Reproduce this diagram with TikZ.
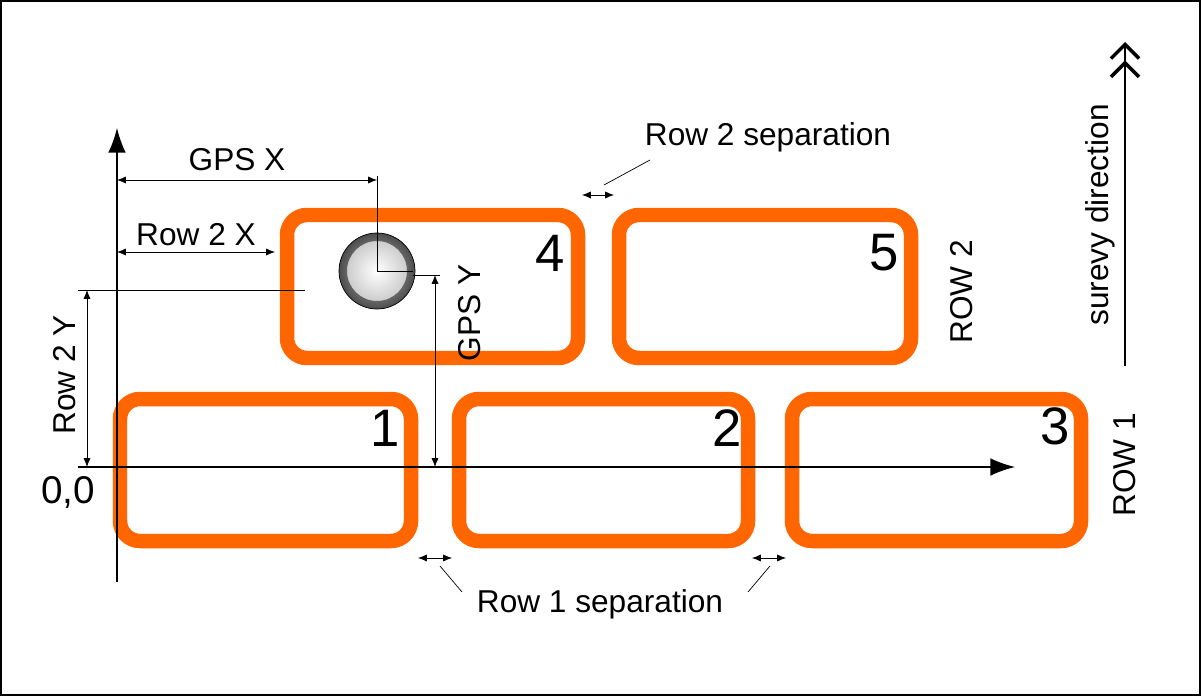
\documentclass[tikz,border=0pt]{standalone}
\usepackage{fontspec}
\setmainfont{Liberation Sans}
\usetikzlibrary{arrows.meta}
\definecolor{plotorange}{RGB}{255,102,0}
\tikzset{
  plot/.style={draw=plotorange, line width=0.29cm, rounded corners=0.4cm},
  dim/.style={{Latex[length=5pt,width=4pt]}-{Latex[length=5pt,width=4pt]}, thin},
  lbl/.style={font=\fontsize{18}{20}\selectfont},
  num/.style={font=\fontsize{30}{32}\selectfont}
}
\begin{document}
\begin{tikzpicture}[x=0.02cm, y=-0.02cm]
    \useasboundingbox (0,0) rectangle (1201,696);
    \draw[line width=1.5pt] (1,1) rectangle (1200,695);

    % Row 1 plots
    \draw[plot] (120,399) rectangle (411,541);
    \draw[plot] (459,399) rectangle (748,541);
    \draw[plot] (792,399) rectangle (1081,541);
    \node[num] (n1) at (385,428) {1};
    \node[num] (n2) at (727,428) {2};
    \node[num] (n3) at (1055,426) {3};

    % Row 2 plots
    \draw[plot] (287,215) rectangle (578,358);
    \draw[plot] (619,215) rectangle (911,358);
    \node[num] (n4) at (550,253) {4};
    \node[num] (n5) at (884,253) {5};

    % Axes
    \draw[-{Latex[length=14pt,width=10pt]}, thick] (117,582) -- (117,128);
    \draw[-{Latex[length=14pt,width=10pt]}, thick] (78,467) -- (1015,467);
    \node[lbl, font=\fontsize{22}{24}\selectfont] (origin) at (68,492) {0,0};

    % GPS point
    \shade[inner color=white, outer color=black!25] (377,271) circle (38);
    \shade[inner color=black!25, outer color=black!70, even odd rule] (377,271) circle (38) (377,271) circle (30);
    \draw[thin] (377,271) circle (38);
    \draw (377,176) -- (377,271) -- (413,271);
    \draw[dim] (117,180) -- (377,180);
    \node[lbl] (gpsx) at (237,160) {GPS X};
    \draw (413,275) -- (440,275);
    \draw[dim] (435,275) -- (435,467);
    \node[lbl, rotate=90] (gpsy) at (470,313) {GPS Y};

    % Row 2 offsets
    \draw[dim] (117,252) -- (275,252);
    \node[lbl] (row2x) at (196,235) {Row 2 X};
    \draw (78,290) -- (305,290);
    \draw[dim] (87,290) -- (87,467);
    \node[lbl, rotate=90] (row2y) at (65,375) {Row 2 Y};

    % Separations
    \draw[dim] (418,558) -- (452,558);
    \draw[dim] (752,558) -- (786,558);
    \node[lbl] (sep1) at (600,604) {Row 1 separation};
    \draw (440,566) -- (462,592);
    \draw (770,566) -- (748,592);
    \draw[dim] (582,195) -- (614,195);
    \node[lbl] (sep2) at (768,137) {Row 2 separation};
    \draw (604,185) -- (650,160);

    % Row labels
    \node[lbl, rotate=90] (r2) at (962,292) {ROW 2};
    \node[lbl, rotate=90] (r1) at (1125,465) {ROW 1};

    % Survey direction
    \draw[-{Straight Barb[length=8pt,width=16pt,line width=2pt] Straight Barb[length=8pt,width=16pt,line width=2pt]}, line width=1.5pt] (1125,366) -- (1125,42);
    \node[lbl, rotate=90] (dir) at (1100,215) {surevy direction};
\end{tikzpicture}
\end{document}
